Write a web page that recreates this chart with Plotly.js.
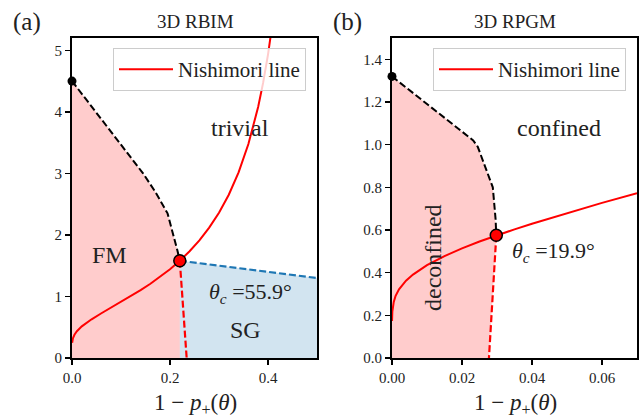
<!DOCTYPE html>
<html>
<head>
<meta charset="utf-8">
<script src="https://cdn.plot.ly/plotly-3.0.1.min.js"></script>
<style>html,body{margin:0;padding:0;background:#fff;}#chart{width:641px;height:418px;}</style>
</head>
<body>
<div id="chart"></div>
<script>
// ---------- Panel (a): 3D RBIM ----------
const rbimNishX = [0.0003, 0.002, 0.005, 0.01, 0.02, 0.04, 0.06, 0.08, 0.10, 0.12, 0.14, 0.16, 0.18, 0.20, 0.22, 0.24, 0.26, 0.28, 0.30, 0.32, 0.34, 0.36, 0.38, 0.39, 0.40, 0.41];
const rbimNishY = [0.247, 0.322, 0.378, 0.435, 0.514, 0.629, 0.727, 0.819, 0.910, 1.004, 1.102, 1.206, 1.319, 1.443, 1.580, 1.735, 1.912, 2.118, 2.360, 2.653, 3.016, 3.478, 4.082, 4.47, 4.93, 5.49];
const rbimBoundX = [0, 0.095, 0.145, 0.17, 0.195, 0.215, 0.22];
const rbimBoundY = [4.5, 3.52, 3.0, 2.7, 2.35, 1.75, 1.58];
const rbimCritX = [0.22, 0.234];
const rbimCritY = [1.58, 0];
const sgBoundX = [0.22, 0.5];
const sgBoundY = [1.58, 1.30];
const rbimCleanPoint = [0, 4.5];
const rbimCritPoint = [0.22, 1.58];

// ---------- Panel (b): 3D RPGM ----------
const rpgmNishX = [0.00001, 0.0001, 0.0005, 0.001, 0.002, 0.004, 0.006, 0.008, 0.01, 0.015, 0.02, 0.025, 0.03, 0.035, 0.04, 0.05, 0.06, 0.07];
const rpgmNishY = [0.174, 0.217, 0.263, 0.290, 0.322, 0.3625, 0.391, 0.415, 0.435, 0.478, 0.514, 0.546, 0.575, 0.603, 0.629, 0.679, 0.727, 0.773];
const rpgmBoundX = [0, 0.0232, 0.0245, 0.0288, 0.0296, 0.0298];
const rpgmBoundY = [1.32, 1.02, 0.99, 0.80, 0.65, 0.575];
const rpgmCritX = [0.0298, 0.0277];
const rpgmCritY = [0.575, 0];
const rpgmCleanPoint = [0, 1.32];
const rpgmCritPoint = [0.0298, 0.575];

const xTicksA = [0, 0.2, 0.4], xTickTextA = ['0.0', '0.2', '0.4'];
const yTicksA = [0, 1, 2, 3, 4, 5], yTickTextA = ['0', '1', '2', '3', '4', '5'];
const xTicksB = [0, 0.02, 0.04, 0.06], xTickTextB = ['0.00', '0.02', '0.04', '0.06'];
const yTicksB = [0, 0.2, 0.4, 0.6, 0.8, 1.0, 1.2, 1.4], yTickTextB = ['0.0', '0.2', '0.4', '0.6', '0.8', '1.0', '1.2', '1.4'];

const RED = '#ff0000', PINK = 'rgba(255,0,0,0.2)', BLUE = '#1f77b4', LBLUE = 'rgba(31,119,180,0.2)';
const FONT = 'Liberation Serif, DejaVu Serif, serif';
const W = 641, H = 418;
const px = v => v / W, py = v => 1 - v / H;

// polygons built from boundary arrays
const fmX = [0].concat(rbimBoundX, [rbimBoundX[rbimBoundX.length - 1], 0]);
const fmY = [0].concat(rbimBoundY, [0, 0]);
const sgX = [sgBoundX[0]].concat(sgBoundX, [sgBoundX[1]]);
const sgY = [0].concat(sgBoundY, [0]);
const decX = [0].concat(rpgmBoundX, rpgmCritX.slice(1), [0]);
const decY = [0].concat(rpgmBoundY, rpgmCritY.slice(1), [0]);

const DASH = '7px,3px';
const traces = [
  // panel a
  {x: fmX, y: fmY, xaxis: 'x', yaxis: 'y', fill: 'toself', fillcolor: PINK, line: {width: 0}, mode: 'lines', showlegend: false, hoverinfo: 'skip'},
  {x: sgX, y: sgY, xaxis: 'x', yaxis: 'y', fill: 'toself', fillcolor: LBLUE, line: {width: 0}, mode: 'lines', showlegend: false, hoverinfo: 'skip'},
  {x: rbimBoundX, y: rbimBoundY, xaxis: 'x', yaxis: 'y', mode: 'lines', line: {color: 'black', width: 2, dash: DASH}, showlegend: false},
  {x: sgBoundX, y: sgBoundY, xaxis: 'x', yaxis: 'y', mode: 'lines', line: {color: BLUE, width: 2.2, dash: DASH}, showlegend: false},
  {x: rbimCritX, y: rbimCritY, xaxis: 'x', yaxis: 'y', mode: 'lines', line: {color: RED, width: 2.2, dash: DASH}, showlegend: false},
  {x: rbimNishX, y: rbimNishY, xaxis: 'x', yaxis: 'y', mode: 'lines', line: {color: RED, width: 2}, name: 'Nishimori line', legend: 'legend', showlegend: true},
  {x: [rbimCleanPoint[0]], y: [rbimCleanPoint[1]], xaxis: 'x', yaxis: 'y', mode: 'markers', marker: {color: 'black', size: 9}, cliponaxis: false, showlegend: false},
  {x: [rbimCritPoint[0]], y: [rbimCritPoint[1]], xaxis: 'x', yaxis: 'y', mode: 'markers', marker: {color: RED, size: 12, line: {color: 'black', width: 1.5}}, cliponaxis: false, showlegend: false},
  // panel b
  {x: decX, y: decY, xaxis: 'x2', yaxis: 'y2', fill: 'toself', fillcolor: PINK, line: {width: 0}, mode: 'lines', showlegend: false, hoverinfo: 'skip'},
  {x: rpgmBoundX, y: rpgmBoundY, xaxis: 'x2', yaxis: 'y2', mode: 'lines', line: {color: 'black', width: 2, dash: DASH}, showlegend: false},
  {x: rpgmCritX, y: rpgmCritY, xaxis: 'x2', yaxis: 'y2', mode: 'lines', line: {color: RED, width: 2.2, dash: DASH}, showlegend: false},
  {x: rpgmNishX, y: rpgmNishY, xaxis: 'x2', yaxis: 'y2', mode: 'lines', line: {color: RED, width: 2}, name: 'Nishimori line', legend: 'legend2', showlegend: true},
  {x: [rpgmCleanPoint[0]], y: [rpgmCleanPoint[1]], xaxis: 'x2', yaxis: 'y2', mode: 'markers', marker: {color: 'black', size: 9}, cliponaxis: false, showlegend: false},
  {x: [rpgmCritPoint[0]], y: [rpgmCritPoint[1]], xaxis: 'x2', yaxis: 'y2', mode: 'markers', marker: {color: RED, size: 12, line: {color: 'black', width: 1.5}}, cliponaxis: false, showlegend: false}
];

const axisCommon = {
  showline: true, mirror: true, linecolor: 'black', linewidth: 2,
  ticks: 'outside', ticklen: 5, tickwidth: 1.5, tickcolor: 'black',
  showgrid: false, zeroline: false, fixedrange: true,
  tickfont: {family: FONT, size: 15, color: '#222'}
};
const yDom = [py(358), py(38)];

const ann = (x, y, text, size, extra) => Object.assign({xref: 'paper', yref: 'paper', x: px(x), y: py(y), text: text, showarrow: false, xanchor: 'center', yanchor: 'middle', font: {family: FONT, size: size, color: '#222'}}, extra || {});
const xTitle = '1 − <i>p</i><sub>+</sub>(<i>θ</i>)';
const legendCommon = {xanchor: 'left', yanchor: 'top', bgcolor: 'rgba(255,255,255,0.8)', bordercolor: '#cccccc', borderwidth: 1, itemwidth: 54, font: {family: FONT, size: 21, color: '#222'}};

const layout = {
  width: W, height: H,
  margin: {l: 0, r: 0, t: 0, b: 0},
  paper_bgcolor: 'white', plot_bgcolor: 'white',
  xaxis: Object.assign({}, axisCommon, {domain: [px(72), px(317)], range: [0, 0.5], tickvals: xTicksA, ticktext: xTickTextA, anchor: 'y'}),
  yaxis: Object.assign({}, axisCommon, {domain: yDom, range: [0, 5.2], tickvals: yTicksA, ticktext: yTickTextA, anchor: 'x'}),
  xaxis2: Object.assign({}, axisCommon, {domain: [px(392), px(637)], range: [0, 0.07], tickvals: xTicksB, ticktext: xTickTextB, anchor: 'y2'}),
  yaxis2: Object.assign({}, axisCommon, {domain: yDom, range: [0, 1.5], tickvals: yTicksB, ticktext: yTickTextB, anchor: 'x2'}),
  legend: Object.assign({x: px(113), y: py(48)}, legendCommon),
  legend2: Object.assign({x: px(433), y: py(48)}, legendCommon),
  annotations: [
    ann(27, 22, '(a)', 25),
    ann(347, 22, '(b)', 25),
    ann(195, 22, '3D RBIM', 19),
    ann(515, 22, '3D RPGM', 19),
    ann(240, 128, 'trivial', 24),
    ann(109, 255, 'FM', 24),
    ann(250, 293, '<i>θ</i><sub><i>c</i></sub> =55.9°', 22),
    ann(245, 330, 'SG', 24),
    ann(559, 128, 'confined', 24),
    ann(433, 258, 'deconfined', 24, {textangle: -90}),
    ann(553, 252, '<i>θ</i><sub><i>c</i></sub> =19.9°', 22),
    ann(195, 404, xTitle, 23),
    ann(515, 404, xTitle, 23)
  ]
};

Plotly.newPlot('chart', traces, layout, {staticPlot: true, displayModeBar: false});
</script>
</body>
</html>
